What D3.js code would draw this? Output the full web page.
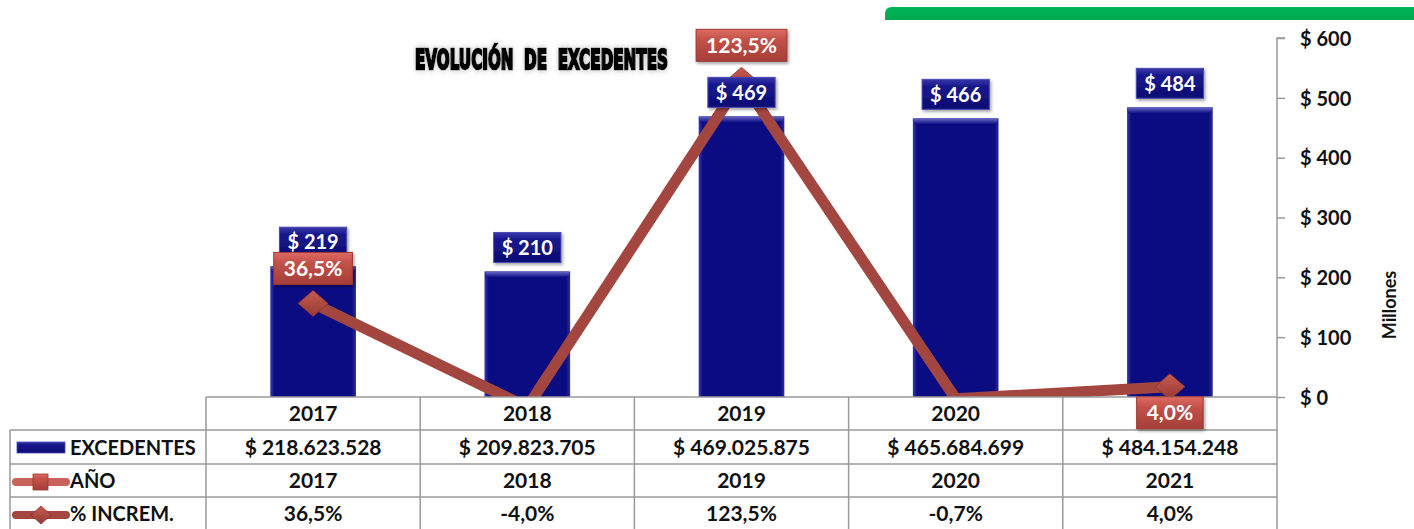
<!DOCTYPE html>
<html><head><meta charset="utf-8">
<script src="https://cdn.jsdelivr.net/npm/d3@7/dist/d3.min.js"></script>
<style>
html,body{margin:0;padding:0;background:#fff;}
svg{display:block;font-family:Lato,"Open Sans",sans-serif;}
</style></head>
<body>
<svg id="chart" width="1414" height="529"></svg>
<script>
// ---- data ----
const years = ["2017","2018","2019","2020","2021"];
const excedentes = [218623528, 209823705, 469025875, 465684699, 484154248];
const anio = [2017, 2018, 2019, 2020, 2021];
const increm = [36.5, -4.0, 123.5, -0.7, 4.0];
const yTicks = [0, 100, 200, 300, 400, 500, 600];
const rowLabels = ["EXCEDENTES", "AÑO", "% INCREM."];
const title = "EVOLUCIÓN  DE  EXCEDENTES";
const axisTitle = "Millones";

// ---- setup ----
const loc = d3.formatLocale({decimal: ",", thousands: ".", grouping: [3], currency: ["$ ", ""], minus: "-"});
const fmtMoney = loc.format("$,.0f");
const fmtPct = v => loc.format(".1f")(v) + "%";

const svg = d3.select("#chart");
const W = 1414, H = 529;
const plotTop = 38, plotBottom = 397, plotLeft = 206, plotRight = 1277;

const x = d3.scaleBand().domain(years).range([plotLeft, plotRight]).paddingInner(0.6).paddingOuter(0.3);
const step = x.step();
const y = d3.scaleLinear().domain([0, 600]).range([plotBottom, plotTop]);
const y2 = d3.scaleLinear().domain([0, 140]).range([plotBottom, plotTop]);

const defs = svg.append("defs");
function grad(id, stops, horiz) {
  const g = defs.append("linearGradient").attr("id", id)
    .attr("x1", 0).attr("y1", 0).attr("x2", horiz ? 1 : 0).attr("y2", horiz ? 0 : 1);
  stops.forEach(s => g.append("stop").attr("offset", s[0]).attr("stop-color", s[1]));
}
grad("barH", [["0%","#3a3aaa"],["5%","#0c0c82"],["95%","#0c0c82"],["100%","#2c2c9c"]], true);
grad("barTop", [["0%","#6a6ac8"],["100%","#0c0c82"]], false);
grad("blueBox", [["0%","#3838aa"],["25%","#17178c"],["100%","#0c0c74"]], false);
grad("redBox", [["0%","#de6c63"],["30%","#c4524b"],["100%","#a53e38"]], false);
grad("redMark", [["0%","#c95a51"],["100%","#933a33"]], false);
grad("greenBar", [["0%","#00b558"],["100%","#00a84f"]], false);
const sh = defs.append("filter").attr("id", "shadow").attr("x", "-20%").attr("y", "-20%").attr("width", "150%").attr("height", "160%");
sh.append("feDropShadow").attr("dx", 1.5).attr("dy", 2).attr("stdDeviation", 1.5).attr("flood-color", "#000").attr("flood-opacity", 0.35);
const tb = defs.append("filter").attr("id", "titleBlur").attr("x", "-5%").attr("y", "-30%").attr("width", "110%").attr("height", "160%");
tb.append("feGaussianBlur").attr("in", "SourceAlpha").attr("stdDeviation", 2).attr("result", "b");
tb.append("feFlood").attr("flood-color", "#bbb").attr("result", "c");
tb.append("feComposite").attr("in", "c").attr("in2", "b").attr("operator", "in").attr("result", "s");
const tm = tb.append("feMerge");
tm.append("feMergeNode").attr("in", "s");
tm.append("feMergeNode").attr("in", "SourceGraphic");
defs.append("clipPath").attr("id", "plotClip").append("rect")
  .attr("x", plotLeft).attr("y", 0).attr("width", plotRight - plotLeft).attr("height", plotBottom);

// green decoration bar
svg.append("path")
  .attr("d", `M885,20 L885,14 Q885,7 892,7 L${W},7 L${W},20 Z`)
  .attr("fill", "url(#greenBar)");

// title
svg.append("text").attr("transform", "translate(415,69) scale(1,1.5)")
  .attr("textLength", 253).attr("lengthAdjust", "spacingAndGlyphs")
  .style("white-space", "pre")
  .attr("font-family", "'DejaVu Sans Condensed','DejaVu Sans',sans-serif")
  .attr("font-weight", "bold").attr("font-size", 18)
  .attr("fill", "#000").attr("stroke", "#000").attr("stroke-width", 1.6)
  .attr("filter", "url(#titleBlur)")
  .text(title);

// ---- bars ----
const barData = years.map((yr, i) => ({yr, v: excedentes[i] / 1e6}));
const bars = svg.append("g");
bars.selectAll("rect.bar").data(barData).join("rect").attr("class", "bar")
  .attr("x", d => x(d.yr)).attr("width", x.bandwidth())
  .attr("y", d => y(d.v)).attr("height", d => y(0) - y(d.v))
  .attr("fill", "url(#barH)");
bars.selectAll("rect.bartop").data(barData).join("rect").attr("class", "bartop")
  .attr("x", d => x(d.yr) + 1).attr("width", x.bandwidth() - 2)
  .attr("y", d => y(d.v)).attr("height", 6)
  .attr("fill", "url(#barTop)");

// ---- % line ----
const lineData = years.map((yr, i) => ({yr, v: increm[i]}));
const cx = d => x(d.yr) + x.bandwidth() / 2;
const lineG = svg.append("g").attr("clip-path", "url(#plotClip)");
lineG.append("path").datum(lineData)
  .attr("d", d3.line().x(cx).y(d => y2(d.v)))
  .attr("fill", "none").attr("stroke", "#a3463f").attr("stroke-width", 11)
  .attr("stroke-linejoin", "miter").attr("stroke-miterlimit", 10);
lineG.selectAll("path.mk").data(lineData.filter(d => d.v >= 0)).join("path").attr("class", "mk")
  .attr("transform", d => `translate(${cx(d)},${y2(d.v)})`)
  .attr("d", "M0,-13 L15,0 L0,13 L-15,0 Z")
  .attr("fill", "url(#redMark)").attr("stroke", "#8a332d").attr("stroke-width", 0.8);

// ---- right axis ----
const axG = svg.append("g").attr("transform", `translate(${plotRight},0)`);
axG.call(d3.axisRight(y).tickValues(yTicks).tickSize(8).tickPadding(15).tickFormat(v => "$ " + v));
axG.select(".domain").attr("stroke", "#9a9a9a").attr("stroke-width", 1.5)
  .attr("d", `M8,${plotTop}H0V${H}`);
axG.selectAll(".tick line").attr("stroke", "#9a9a9a").attr("stroke-width", 1.5);
axG.selectAll(".tick text").attr("font-family", "Lato,sans-serif").attr("font-weight", "bold")
  .attr("font-size", 20).attr("fill", "#111").attr("dy", "0.36em");
svg.append("text").attr("transform", `translate(1396,305) rotate(-90)`)
  .attr("text-anchor", "middle").attr("font-weight", "bold").attr("font-size", 18).attr("fill", "#111")
  .text(axisTitle);

// ---- data table ----
const rowTops = [397, 430, 464, 497, 530];
const tableLeft = 10;
const tg = svg.append("g").attr("stroke", "#9a9a9a").attr("stroke-width", 1.5);
tg.append("line").attr("x1", plotLeft).attr("x2", plotRight).attr("y1", rowTops[0]).attr("y2", rowTops[0]);
rowTops.slice(1, 4).forEach(r => tg.append("line").attr("x1", tableLeft).attr("x2", plotRight).attr("y1", r).attr("y2", r));
tg.append("line").attr("x1", tableLeft).attr("x2", tableLeft).attr("y1", rowTops[1]).attr("y2", H);
years.forEach(yr => {
  const xl = x(yr) - (step - x.bandwidth()) / 2;
  tg.append("line").attr("x1", xl).attr("x2", xl).attr("y1", rowTops[0]).attr("y2", H);
});

const rowsText = [
  years,
  excedentes.map(fmtMoney),
  anio.map(String),
  increm.map(fmtPct)
];
const txtG = svg.append("g").attr("font-weight", "bold").attr("font-size", 21).attr("fill", "#111");
rowsText.forEach((row, r) => {
  const cy = (rowTops[r] + rowTops[r + 1]) / 2;
  row.forEach((t, i) => {
    txtG.append("text").attr("x", x(years[i]) + x.bandwidth() / 2).attr("y", cy + 7.5)
      .attr("text-anchor", "middle").text(t);
  });
});
rowLabels.forEach((t, r) => {
  const cy = (rowTops[r + 1] + rowTops[r + 2]) / 2;
  txtG.append("text").attr("x", 70).attr("y", cy + 7.5).attr("font-size", 20).text(t);
});
// legend keys
const lk = svg.append("g");
lk.append("rect").attr("x", 17).attr("y", 442).attr("width", 48).attr("height", 11)
  .attr("fill", "url(#blueBox)").attr("stroke", "#4a4ab4").attr("stroke-width", 0.8);
lk.append("line").attr("x1", 16).attr("x2", 66).attr("y1", 482).attr("y2", 482)
  .attr("stroke", "#c9625a").attr("stroke-width", 8).attr("stroke-linecap", "round");
lk.append("rect").attr("x", 33).attr("y", 474).attr("width", 15).attr("height", 16)
  .attr("fill", "url(#redBox)").attr("stroke", "#9a3a34").attr("stroke-width", 0.8);
lk.append("line").attr("x1", 16).attr("x2", 66).attr("y1", 515).attr("y2", 515)
  .attr("stroke", "#a3463f").attr("stroke-width", 8).attr("stroke-linecap", "round");
lk.append("path").attr("transform", "translate(41,515)").attr("d", "M0,-9 L10,0 L0,9 L-10,0 Z")
  .attr("fill", "url(#redMark)").attr("stroke", "#8a332d").attr("stroke-width", 0.8);

// ---- data labels (drawn last, on top) ----
function boxLabel(g, cxp, cyp, txt, fill, stroke, fs, padX, h) {
  const t = g.append("text").attr("x", cxp).attr("y", cyp + fs * 0.36)
    .attr("text-anchor", "middle").attr("font-weight", "bold").attr("font-size", fs)
    .attr("fill", "#fff").text(txt);
  const w = t.node().getComputedTextLength() + padX * 2;
  g.insert("rect", "text").attr("x", cxp - w / 2).attr("y", cyp - h / 2)
    .attr("width", w).attr("height", h).attr("fill", fill)
    .attr("stroke", stroke).attr("stroke-width", 1).attr("filter", "url(#shadow)");
}
barData.forEach(d => {
  const g = svg.append("g");
  boxLabel(g, cx(d), y(d.v) - 9 - 15, "$ " + Math.round(d.v), "url(#blueBox)", "#4a4ab4", 20, 8, 30);
});
lineData.forEach((d, i) => {
  if (d.v < 0) return;
  const g = svg.append("g");
  const below = i === lineData.length - 1;
  const cyp = below ? y2(d.v) + 10 + 16 : y2(d.v) - 19 - 16;
  boxLabel(g, cx(d), cyp, fmtPct(d.v), "url(#redBox)", "#9a3a34", 21, 10, 32);
});
</script>
</body></html>
